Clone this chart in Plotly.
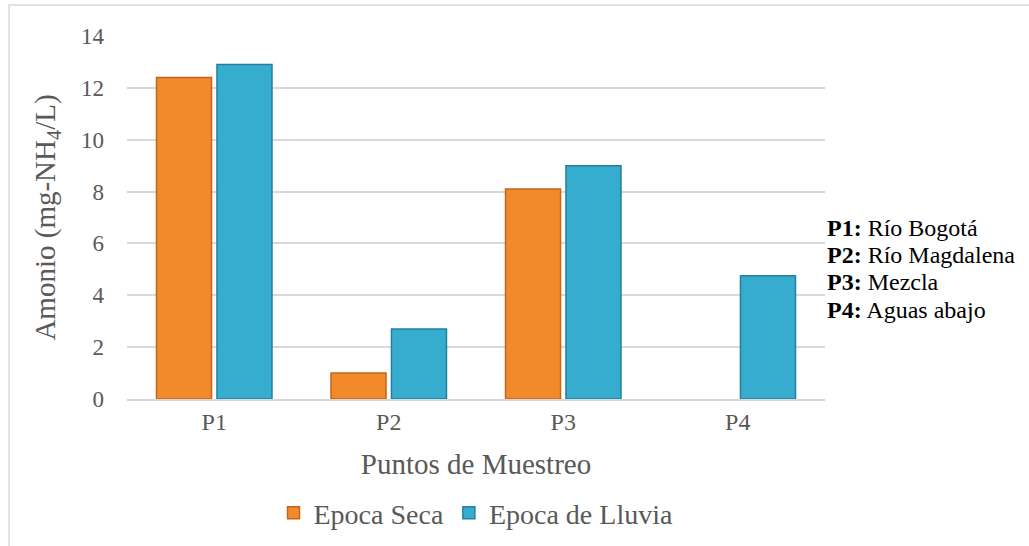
import plotly.graph_objects as go

# Sampling points and ammonium concentrations (mg-NH4/L)
puntos = ["P1", "P2", "P3", "P4"]
epoca_seca = [12.4, 1.0, 8.1, None]
epoca_lluvia = [12.9, 2.7, 9.0, 4.75]

# Key for the sampling point codes
codigos = ["P1:", "P2:", "P3:", "P4:"]
lugares = ["Río Bogotá", "Río Magdalena", "Mezcla", "Aguas abajo"]

y_ticks = [0, 2, 4, 6, 8, 10, 12, 14]

SERIF = "Liberation Serif"
GREY = "#595959"

fig = go.Figure()
fig.add_trace(go.Bar(
    x=puntos, y=epoca_seca, name="Epoca Seca",
    marker=dict(color="#F28A2C", line=dict(color="#C4651C", width=1.5)),
))
fig.add_trace(go.Bar(
    x=puntos, y=epoca_lluvia, name="Epoca de Lluvia",
    marker=dict(color="#36ACCF", line=dict(color="#23809C", width=1.5)),
))

# Key for the point codes, to the right of the plot area
key_y = [0.471, 0.397, 0.322, 0.245]
for cod, lug, yy in zip(codigos, lugares, key_y):
    fig.add_annotation(
        x=1.0, y=yy, xref="paper", yref="paper",
        xanchor="left", yanchor="middle", showarrow=False,
        text=f"<b>{cod}</b> {lug}",
        font=dict(family=SERIF, size=24, color="black"),
    )

# Thin outer frame around the chart
fig.add_shape(
    type="rect", xref="paper", yref="paper",
    x0=-0.169, x1=1.35, y0=-0.45, y1=1.0854,
    line=dict(color="#D9D9D9", width=1.5), fillcolor="rgba(0,0,0,0)", layer="below",
)

fig.update_layout(
    width=1029, height=546,
    margin=dict(l=127, r=204, t=36, b=147, autoexpand=False),
    paper_bgcolor="white", plot_bgcolor="white",
    barmode="group", bargap=0.307, bargroupgap=0.09,
    font=dict(family=SERIF, color=GREY),
    showlegend=True,
    legend=dict(
        orientation="h", x=0.5, xanchor="center", y=-0.314, yanchor="middle",
        font=dict(family=SERIF, size=28, color=GREY),
        itemwidth=30, traceorder="normal",
    ),
    xaxis=dict(
        showgrid=False, showline=True, linecolor="#D9D9D9", linewidth=1.5,
        ticks="", tickfont=dict(family=SERIF, size=24, color=GREY),
        title=dict(text="Puntos de Muestreo", font=dict(family=SERIF, size=29, color=GREY), standoff=20),
    ),
    yaxis=dict(
        range=[0, 14], tickvals=y_ticks, showgrid=True,
        gridcolor="#D9D9D9", gridwidth=1.5, zeroline=False,
        showline=False, ticks="", tickfont=dict(family=SERIF, size=23, color=GREY),
        ticklabelstandoff=22,
        title=dict(text="Amonio (mg-NH<sub>4</sub>/L)", font=dict(family=SERIF, size=29, color=GREY), standoff=16),
    ),
)

fig.write_html("out.html")
